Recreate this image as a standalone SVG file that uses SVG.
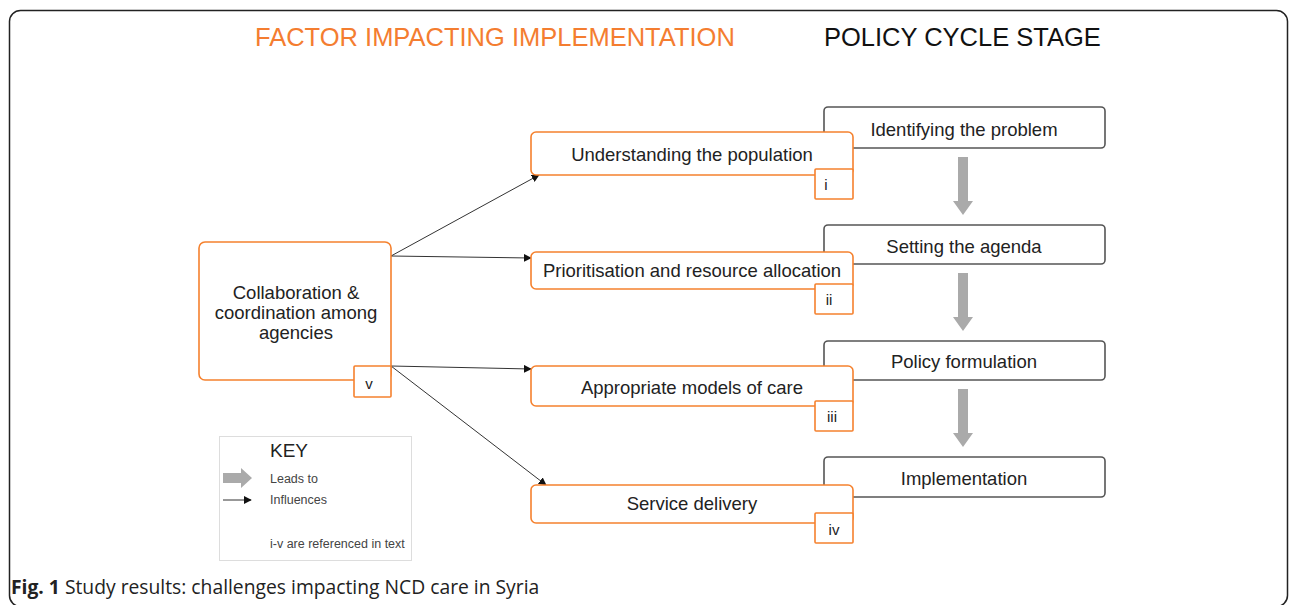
<svg xmlns="http://www.w3.org/2000/svg" width="1290" height="605" viewBox="0 0 1290 605">
  <style>
    .frame { fill: none; stroke: #222; stroke-width: 1.5; }
    .fac { fill: #fff; stroke: #f5812e; stroke-width: 1.6; }
    .stage { fill: #fff; stroke: #555; stroke-width: 1.6; }
    .sans { font-family: Arial, "Liberation Sans", Arimo, Helvetica, sans-serif; }
    .lbl { font-size: 18.5px; fill: #222; text-anchor: middle; }
    .num { font-size: 15px; fill: #222; text-anchor: middle; }
    .title { font-size: 25.5px; }
    .keyt { font-size: 12.5px; fill: #444; }
    .conn { stroke: #333; stroke-width: 1; fill: none; marker-end: url(#tip); }
    .big { fill: #aaa; }
  </style>
  <defs>
    <marker id="tip" viewBox="0 0 10 10" refX="9" refY="5" markerWidth="8" markerHeight="8" markerUnits="userSpaceOnUse" orient="auto">
      <path d="M0,0 L10,5 L0,10 z" fill="#111"/>
    </marker>
    <path id="leads" d="M-5,0 H5 V44 H10 L0,58 L-10,44 H-5 z"/>
  </defs>

  <rect class="frame" x="9.5" y="10.5" width="1278" height="596" rx="11"/>

  <g class="sans">
  <text class="title" x="255" y="46" fill="#f47d30">FACTOR IMPACTING IMPLEMENTATION</text>
  <text class="title" x="824" y="46" fill="#111">POLICY CYCLE STAGE</text>

  <!-- policy cycle stages -->
  <g id="stage-problem"><rect class="stage" x="824" y="107" width="281" height="41" rx="4"/><text class="lbl" x="964" y="135.5">Identifying the problem</text></g>
  <g id="stage-agenda"><rect class="stage" x="824" y="225" width="281" height="39" rx="4"/><text class="lbl" x="964" y="252.5">Setting the agenda</text></g>
  <g id="stage-formulation"><rect class="stage" x="824" y="341" width="281" height="39" rx="4"/><text class="lbl" x="964" y="367.5">Policy formulation</text></g>
  <g id="stage-implementation"><rect class="stage" x="824" y="457" width="281" height="40" rx="4"/><text class="lbl" x="964" y="484.5">Implementation</text></g>

  <!-- leads-to arrows between stages -->
  <g id="stage-flow">
    <use href="#leads" class="big" x="963" y="157"/>
    <use href="#leads" class="big" x="963" y="273"/>
    <use href="#leads" class="big" x="963" y="389"/>
  </g>

  <!-- influence connectors -->
  <g id="connectors">
    <line class="conn" x1="391" y1="256" x2="539" y2="175"/>
    <line class="conn" x1="391" y1="256" x2="531" y2="258"/>
    <line class="conn" x1="391" y1="366" x2="531" y2="369"/>
    <line class="conn" x1="391" y1="366" x2="546" y2="485"/>
  </g>

  <!-- factors -->
  <g id="collaboration">
    <rect class="fac" x="199" y="242" width="192" height="138" rx="6"/>
    <text class="lbl" x="296" y="298.5">Collaboration &amp;</text>
    <text class="lbl" x="296" y="318.5">coordination among</text>
    <text class="lbl" x="296" y="338.5">agencies</text>
    <rect class="fac" x="354" y="366" width="37" height="31" rx="1"/>
    <text class="num" x="369" y="389">v</text>
  </g>
  <g id="population">
    <rect class="fac" x="531" y="132" width="322" height="43" rx="5"/>
    <text class="lbl" x="692" y="160.5">Understanding the population</text>
    <rect class="fac" x="815" y="169" width="38" height="30" rx="1"/>
    <text class="num" x="826" y="190">i</text>
  </g>
  <g id="prioritisation">
    <rect class="fac" x="531" y="252" width="322" height="37" rx="5"/>
    <text class="lbl" x="692" y="276.5">Prioritisation and resource allocation</text>
    <rect class="fac" x="815" y="284" width="38" height="30" rx="1"/>
    <text class="num" x="829" y="305">ii</text>
  </g>
  <g id="models-of-care">
    <rect class="fac" x="531" y="366" width="322" height="40" rx="5"/>
    <text class="lbl" x="692" y="393.5">Appropriate models of care</text>
    <rect class="fac" x="815" y="401" width="38" height="30" rx="1"/>
    <text class="num" x="832" y="422">iii</text>
  </g>
  <g id="service-delivery">
    <rect class="fac" x="531" y="485" width="322" height="38" rx="5"/>
    <text class="lbl" x="692" y="509.5">Service delivery</text>
    <rect class="fac" x="815" y="513" width="38" height="30" rx="1"/>
    <text class="num" x="834" y="535">iv</text>
  </g>

  <!-- key -->
  <g id="key">
    <rect x="219.5" y="436.5" width="192" height="124" fill="#fff" stroke="#ddd" stroke-width="1"/>
    <text x="270" y="457" font-size="19" fill="#222">KEY</text>
    <path class="big" d="M223,473 H241 V468 L252,478 L241,488 V483 H223 z"/>
    <text class="keyt" x="270" y="483">Leads to</text>
    <line class="conn" x1="223" y1="500" x2="251" y2="500"/>
    <text class="keyt" x="270" y="504">Influences</text>
    <text class="keyt" x="270" y="548">i-v are referenced in text</text>
  </g>
  </g>

  <text x="11" y="594" font-family="'Open Sans', 'Noto Sans', sans-serif" font-size="19.3" fill="#222"><tspan font-weight="bold">Fig. 1</tspan> Study results: challenges impacting NCD care in Syria</text>
</svg>
